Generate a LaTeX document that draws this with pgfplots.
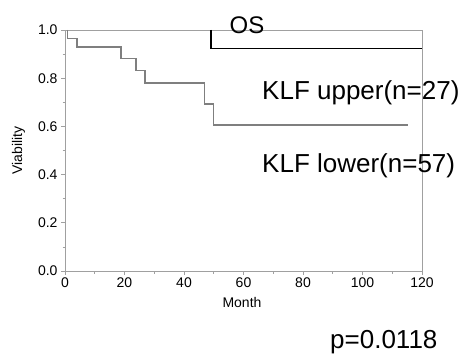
\documentclass[border=0pt]{standalone}
\usepackage{pgfplots}
\pgfplotsset{compat=1.18}
\usepackage{fontspec}
\setmainfont{Liberation Sans}
\definecolor{axgray}{HTML}{A0A0A0}
\definecolor{curvegray}{HTML}{7F7F7F}
\begin{document}
\begin{tikzpicture}[x=1pt,y=1pt]
\useasboundingbox (0,0) rectangle (465,356);
\begin{axis}[
  at={(65pt,85pt)}, anchor=origin,
  scale only axis, width=357pt, height=241pt,
  xmin=0, xmax=120, ymin=0, ymax=1,
  xtick={0,20,...,120}, ytick={0,0.2,...,1.0},
  minor xtick={10,30,50,70,90,110}, minor ytick={0.1,0.3,0.5,0.7,0.9},
  xtick pos=bottom, ytick pos=left,
  tick align=outside, major tick length=4pt, minor tick length=2.5pt,
  tick style={axgray, line width=0.6pt},
  axis line style={axgray, line width=0.8pt},
  yticklabel style={/pgf/number format/.cd, fixed, fixed zerofill, precision=1},
  /pgf/number format/assume math mode=true,
  ticklabel style={font=\fontsize{14}{16}\selectfont},
  xticklabel style={yshift=1pt},
  clip=false,
]
\addplot[black, line width=1.3pt, const plot] coordinates {(49.1,1.0) (49.1,0.924) (120,0.924)};
\addplot[curvegray, line width=1.3pt, const plot] coordinates {(0.9,1.0) (0.9,0.966) (4.0,0.929) (18.8,0.882) (23.9,0.831) (26.9,0.780) (46.8,0.693) (49.8,0.606) (115.2,0.606)};
\end{axis}
\node[anchor=base, font=\fontsize{24}{28}\selectfont, inner sep=0] at (247,322.7) {OS};
\node[anchor=base west, font=\fontsize{26}{30}\selectfont, inner sep=0] at (262,256) {KLF upper(n=27)};
\node[anchor=base west, font=\fontsize{26}{30}\selectfont, inner sep=0] at (262,183) {KLF lower(n=57)};
\node[anchor=base west, font=\fontsize{26}{30}\selectfont, inner sep=0] at (330,8) {p=0.0118};
\node[anchor=base, font=\fontsize{14}{16}\selectfont, inner sep=0] at (242,48.3) {Month};
\node[anchor=base, rotate=90, font=\fontsize{14}{16}\selectfont, inner sep=0] at (22,205.5) {Viability};
\end{tikzpicture}
\end{document}
